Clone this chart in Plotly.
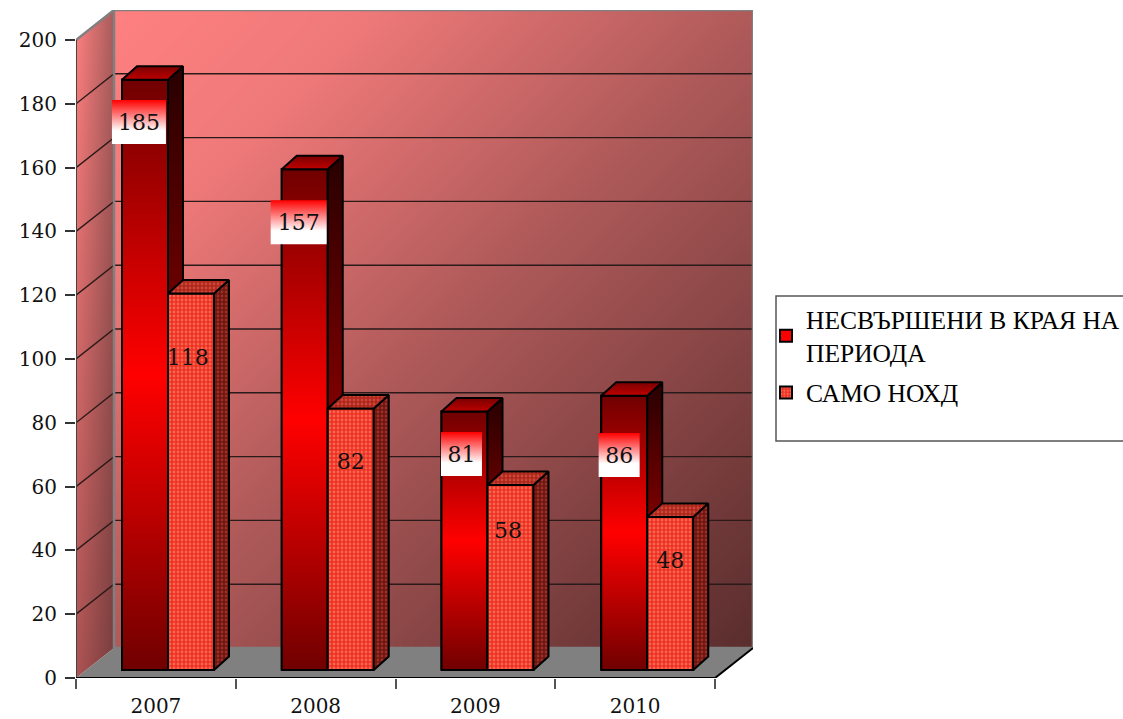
import numpy as np
import plotly.graph_objects as go

YEARS = ["2007", "2008", "2009", "2010"]
UNRESOLVED = [185, 157, 81, 86]
SAMO_NOHD = [118, 82, 58, 48]
NAME_A = "НЕСВЪРШЕНИ В КРАЯ НА<br>ПЕРИОДА"
NAME_B = "САМО НОХД"
Y_TICKS = list(range(0, 201, 20))

# pixel scale of the front plane
PX_X = 159.75
PX_Y = 3.19
WALL_DX = 38 / PX_X
WALL_DY = 30 / PX_Y
BAR_DX = 15 / PX_X
BAR_DY = 13.5 / PX_Y
BASE = 8 / PX_Y
BAR_W = 46 / PX_X
BAR_LEFT = 46 / PX_X

# data-label boxes (centre x / centre y in data units, box size)
BOX_X = [0.394, 1.394, 2.413, 3.4]
BOX_Y = [174.3, 142.9, 70.2, 69.9]
BOX_W = [54 / PX_X, 56 / PX_X, 41 / PX_X, 41 / PX_X]
BOX_H = 44 / PX_Y
TEXT_DROP = 0.8
LABEL_B_X = [0.7, 1.72, 2.705, 3.72]
LABEL_B_Y = [99.7, 67.2, 45.6, 36.1]

SERIF = "DejaVu Serif"
TICK_FONT = dict(family=SERIF, size=20, color="#111111")
XMAX = 4 + WALL_DX
YMAX = 200 + WALL_DY

fig = go.Figure()


def poly(xs, ys, axes, fill=None, grad=None, pattern=None, lw=2, lc="#000000"):
    kw = {}
    if grad is not None:
        kw["fillgradient"] = grad
    if pattern is not None:
        kw["fillpattern"] = pattern
    fig.add_trace(go.Scatter(
        x=list(xs) + [xs[0]], y=list(ys) + [ys[0]], mode="lines", fill="toself",
        fillcolor=fill, line=dict(color=lc, width=lw), showlegend=False,
        hoverinfo="skip", cliponaxis=False, xaxis=axes[0], yaxis=axes[1], **kw))


def vgrad(scale):
    return dict(type="vertical", colorscale=scale)


# back wall: diagonal shading
n = 40
gx = np.linspace(WALL_DX, 4 + WALL_DX, n + 1)
gy = np.linspace(WALL_DY, 200 + WALL_DY, n + 1)
u = (np.arange(n) + 0.5) / n
z = (u[None, :] + (1 - u)[:, None]) / 2
fig.add_trace(go.Heatmap(x=gx, y=gy, z=z, zmin=0, zmax=1, zsmooth="best", showscale=False,
                         colorscale=[[0, "#ff8080"], [0.2, "#ef7979"], [0.5, "#b05a5a"], [1, "#5a2d2d"]],
                         hoverinfo="skip"))

B = ("x", "y")
# left wall
lx = [0, WALL_DX, WALL_DX, 0]
ly = [0, WALL_DY, 200 + WALL_DY, 200]
poly(lx, ly, B, grad=dict(type="horizontal", colorscale=[[0, "#ff8080"], [1, "#a85c5c"]]), lw=0, lc="rgba(0,0,0,0)")
poly(lx, ly, B, grad=vgrad([[0, "rgba(40,10,10,0.38)"], [1, "rgba(40,10,10,0)"]]), lw=0, lc="rgba(0,0,0,0)")
# floor
poly([0, 4, 4 + WALL_DX, WALL_DX], [0, 0, WALL_DY, WALL_DY], B, fill="#808080", lw=0, lc="rgba(0,0,0,0)")

# gridlines
gxs, gys = [], []
for t in Y_TICKS[1:-1]:
    gxs += [0, WALL_DX, 4 + WALL_DX, None]
    gys += [t, t + WALL_DY, t + WALL_DY, None]
fig.add_trace(go.Scatter(x=gxs, y=gys, mode="lines", line=dict(color="#2a1a1a", width=1.4),
                         showlegend=False, hoverinfo="skip", cliponaxis=False))
# wall frame
fig.add_trace(go.Scatter(
    x=[0, WALL_DX, 4 + WALL_DX, 4 + WALL_DX, WALL_DX, WALL_DX],
    y=[200, 200 + WALL_DY, 200 + WALL_DY, WALL_DY, WALL_DY, 200 + WALL_DY],
    mode="lines", line=dict(color="#808080", width=2.5), showlegend=False,
    hoverinfo="skip", cliponaxis=False))
# axis lines
fig.add_trace(go.Scatter(x=[0, 0], y=[200, 0], mode="lines", line=dict(color="#444444", width=2),
                         showlegend=False, hoverinfo="skip", cliponaxis=False))
fig.add_trace(go.Scatter(x=[0, 4, 4 + WALL_DX], y=[0, 0, WALL_DY], mode="lines",
                         line=dict(color="#000000", width=2), showlegend=False,
                         hoverinfo="skip", cliponaxis=False))

A1 = ("x2", "y2")
A2 = ("x3", "y3")
idx = np.arange(len(YEARS))
left_a = idx + BAR_LEFT
left_b = left_a + BAR_W

# series A: real bars
fig.add_trace(go.Bar(x=left_a + BAR_W / 2, y=UNRESOLVED, base=BASE, width=BAR_W, name=NAME_A,
                     legendgroup="a",
                     marker=dict(color="#ff0000", line=dict(color="#000000", width=2)),
                     hoverinfo="skip", xaxis="x2", yaxis="y2"))
FRONT = [[0, "#700000"], [0.5, "#ff0000"], [1, "#700000"]]
SIDE = [[0, "#280000"], [0.5, "#800000"], [1, "#280000"]]
TOP = [[0, "#c00000"], [1, "#7a0000"]]
for l, v in zip(left_a, UNRESOLVED):
    t = BASE + v
    r = l + BAR_W
    poly([l, r, r, l], [BASE, BASE, t, t], A1, grad=vgrad(FRONT))
    poly([r, r + BAR_DX, r + BAR_DX, r], [BASE, BASE + BAR_DY, t + BAR_DY, t], A1, grad=vgrad(SIDE))
    poly([l, r, r + BAR_DX, l + BAR_DX], [t, t, t + BAR_DY, t + BAR_DY], A1, grad=vgrad(TOP))
for cx, cy, w in zip(BOX_X, BOX_Y, BOX_W):
    poly([cx - w / 2, cx + w / 2, cx + w / 2, cx - w / 2],
         [cy - BOX_H / 2, cy - BOX_H / 2, cy + BOX_H / 2, cy + BOX_H / 2], A1,
         grad=vgrad([[0, "#ffffff"], [0.3, "#ffffff"], [1, "#ff0000"]]), lw=0, lc="rgba(0,0,0,0)")
fig.add_trace(go.Scatter(x=BOX_X, y=[c - TEXT_DROP for c in BOX_Y], mode="text",
                         text=[str(v) for v in UNRESOLVED],
                         textfont=dict(family=SERIF, size=22, color="#111111"), textposition="middle center",
                         showlegend=False, hoverinfo="skip", cliponaxis=False, xaxis="x2", yaxis="y2"))

# series B: real bars
FG, BG = "#ff9c84", "#ee3020"
PATTERN = dict(shape=".", size=4, solidity=0.4, fgcolor=FG, bgcolor=BG)
fig.add_trace(go.Bar(x=left_b + BAR_W / 2, y=SAMO_NOHD, base=BASE, width=BAR_W, name=NAME_B,
                     legendgroup="b",
                     marker=dict(color=BG, pattern=PATTERN, line=dict(color="#000000", width=2)),
                     hoverinfo="skip", xaxis="x3", yaxis="y3"))
SIDE_P = dict(shape=".", size=4, solidity=0.4, fgcolor="#c05040", bgcolor="#701410")
TOP_P = dict(shape=".", size=4, solidity=0.4, fgcolor="#e07060", bgcolor="#b02418")
for l, v in zip(left_b, SAMO_NOHD):
    t = BASE + v
    r = l + BAR_W
    poly([r, r + BAR_DX, r + BAR_DX, r], [BASE, BASE + BAR_DY, t + BAR_DY, t], A2,
         fill="#701410", pattern=SIDE_P)
    poly([l, r, r + BAR_DX, l + BAR_DX], [t, t, t + BAR_DY, t + BAR_DY], A2,
         fill="#b02418", pattern=TOP_P)
fig.add_trace(go.Scatter(x=LABEL_B_X, y=LABEL_B_Y, mode="text", text=[str(v) for v in SAMO_NOHD],
                         textfont=dict(family=SERIF, size=22, color="#111111"), textposition="middle center",
                         showlegend=False, hoverinfo="skip", cliponaxis=False, xaxis="x3", yaxis="y3"))

hidden = dict(visible=False, fixedrange=True, automargin=False)
fig.update_layout(
    width=1123, height=719, margin=dict(l=76, r=370, t=10, b=41, autoexpand=False),
    paper_bgcolor="#ffffff", plot_bgcolor="rgba(0,0,0,0)", barmode="overlay",
    font=dict(family=SERIF, color="#111111"),
    xaxis=dict(range=[0, XMAX], tickmode="array", tickvals=list(idx + 0.5), ticktext=YEARS,
               automargin=False,
               ticks="outside", ticklen=10, tickcolor="rgba(0,0,0,0)", tickfont=TICK_FONT,
               ticklabelstandoff=0, showgrid=False, zeroline=False, showline=False,
               minor=dict(tickvals=list(range(5)), ticks="outside", ticklen=10, tickwidth=2,
                          tickcolor="#555555", showgrid=False)),
    yaxis=dict(range=[0, YMAX], tickmode="array", tickvals=Y_TICKS, ticks="outside", ticklen=10,
               automargin=False, ticklabelstandoff=4,
               tickwidth=2, tickcolor="#333333", tickfont=TICK_FONT, showgrid=False,
               zeroline=False, showline=False),
    xaxis2=dict(range=[0, XMAX], overlaying="x", anchor="y2", **hidden),
    yaxis2=dict(range=[0, YMAX], overlaying="y", anchor="x2", **hidden),
    xaxis3=dict(range=[0, XMAX], overlaying="x", anchor="y3", **hidden),
    yaxis3=dict(range=[0, YMAX], overlaying="y", anchor="x3", **hidden),
    legend=dict(x=(766 - 76) / 677, xanchor="left", y=(678 - 296) / 668, yanchor="top",
                bgcolor="rgba(0,0,0,0)", font=dict(family="Liberation Serif", size=25.5, color="#000000"),
                tracegroupgap=4, itemclick=False, itemdoubleclick=False),
    shapes=[dict(type="rect", xref="paper", yref="paper", x0=(776 - 76) / 677, x1=1.7,
                 y0=(678 - 441) / 668, y1=(678 - 296) / 668,
                 line=dict(color="#555555", width=1.5), fillcolor="rgba(0,0,0,0)")],
)

fig.write_html("out.html", config=dict(displayModeBar=False),
               post_script="document.body.style.margin='0';document.body.style.overflow='hidden';")
